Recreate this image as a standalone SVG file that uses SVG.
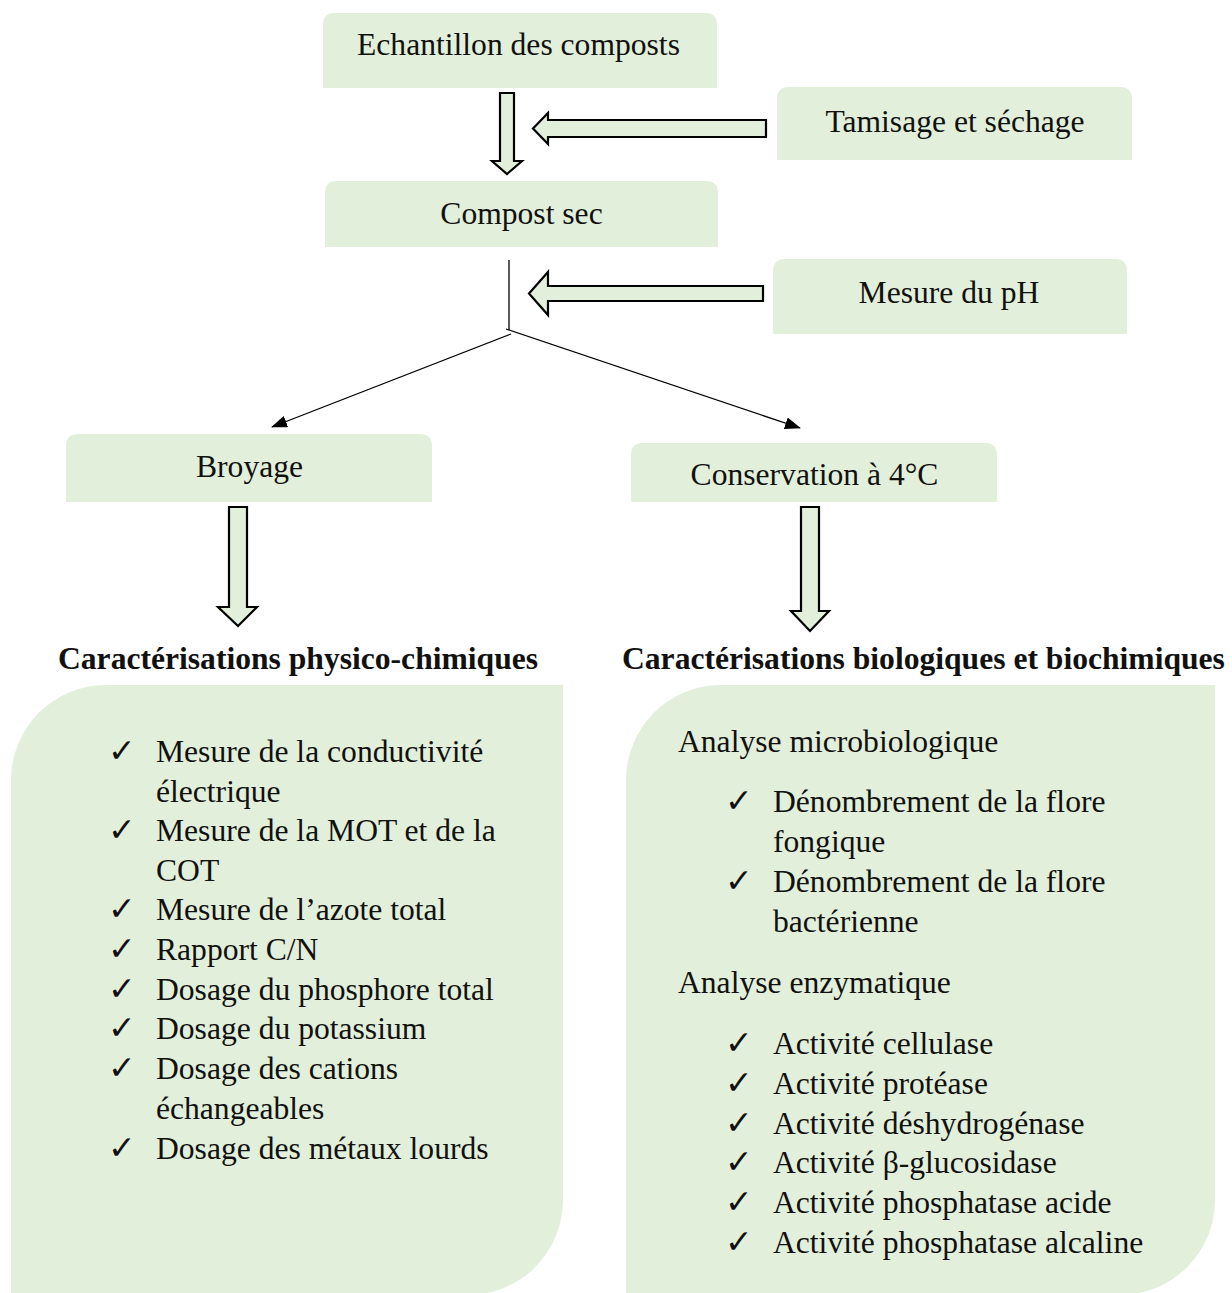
<svg xmlns="http://www.w3.org/2000/svg" width="1232" height="1293" viewBox="0 0 1232 1293">
<style>
.box{fill:#E2EFDA;}
.t{font-family:'Liberation Serif','DejaVu Serif',serif;font-size:31.6px;fill:#111;}
.c{text-anchor:middle;}
.b{font-weight:bold;}
.ck{font-family:'DejaVu Sans',sans-serif;font-size:33px;fill:#111;}
.blk{fill:#E2EFDA;stroke:#000;stroke-width:2.2;stroke-linejoin:miter;}
.ln{stroke:#000;stroke-width:1.3;fill:none;}
</style>
<defs>
<marker id="ah" viewBox="0 0 16 12" refX="15" refY="6" markerWidth="16" markerHeight="12" markerUnits="userSpaceOnUse" orient="auto">
<path d="M0,0 L16,6 L0,12 Z" fill="#000"/>
</marker>
</defs>
<rect width="1232" height="1293" fill="#fff"/>

<g id="connectors">
<path class="blk" d="M500,93 L514,93 L514,161 L522,161 L507,174 L492,161 L500,161 Z"/>
<path class="blk" d="M766,120 L548,120 L548,113 L533,128.5 L548,144 L548,137 L766,137 Z"/>
<path class="blk" d="M763,286 L548,286 L548,272 L529,293.5 L548,315 L548,301 L763,301 Z"/>
<path class="blk" d="M229,507 L247,507 L247,607 L257,607 L238,626 L218,607 L229,607 Z"/>
<path class="blk" d="M801,507 L819,507 L819,611 L829,611 L810,631 L791,611 L801,611 Z"/>
<line class="ln" x1="509" y1="260" x2="509" y2="330"/>
<line class="ln" x1="511" y1="334" x2="272" y2="427" marker-end="url(#ah)"/>
<line class="ln" x1="506" y1="329" x2="800" y2="428" marker-end="url(#ah)"/>
</g>

<g id="n-echantillon">
<path class="box" d="M323,88 L323,25 Q323,13 335,13 L705,13 Q717,13 717,25 L717,88 Z"/>
<text class="t c" x="518.5" y="55">Echantillon des composts</text>
</g>
<g id="n-tamisage">
<path class="box" d="M777,160 L777,99 Q777,87 789,87 L1120,87 Q1132,87 1132,99 L1132,160 Z"/>
<text class="t c" x="955" y="131.5">Tamisage et séchage</text>
</g>
<g id="n-compost">
<path class="box" d="M325,247 L325,193 Q325,181 337,181 L706,181 Q718,181 718,193 L718,247 Z"/>
<text class="t c" x="521.5" y="224">Compost sec</text>
</g>
<g id="n-ph">
<path class="box" d="M773,334 L773,271 Q773,259 785,259 L1115,259 Q1127,259 1127,271 L1127,334 Z"/>
<text class="t c" x="949" y="303">Mesure du pH</text>
</g>
<g id="n-broyage">
<path class="box" d="M66,502 L66,446 Q66,434 78,434 L420,434 Q432,434 432,446 L432,502 Z"/>
<text class="t c" x="249.5" y="477">Broyage</text>
</g>
<g id="n-conservation">
<path class="box" d="M631,502 L631,455 Q631,443 643,443 L985,443 Q997,443 997,455 L997,502 Z"/>
<text class="t c" x="814.5" y="485">Conservation à 4°C</text>
</g>

<g id="n-physico">
<text class="t b" x="58" y="669">Caractérisations physico-chimiques</text>
<path class="box" d="M11,780 A95,95 0 0 1 106,685 L563,685 L563,1200 A95,95 0 0 1 468,1295 L11,1295 Z"/>
<g class="ck">
<text x="108" y="762">✓</text>
<text x="108" y="841">✓</text>
<text x="108" y="920">✓</text>
<text x="108" y="960">✓</text>
<text x="108" y="1000">✓</text>
<text x="108" y="1039">✓</text>
<text x="108" y="1079">✓</text>
<text x="108" y="1159">✓</text>
</g>
<g class="t">
<text x="156" y="762">Mesure de la conductivité</text>
<text x="156" y="802">électrique</text>
<text x="156" y="841">Mesure de la MOT et de la</text>
<text x="156" y="881">COT</text>
<text x="156" y="920">Mesure de l’azote total</text>
<text x="156" y="960">Rapport C/N</text>
<text x="156" y="1000">Dosage du phosphore total</text>
<text x="156" y="1039">Dosage du potassium</text>
<text x="156" y="1079">Dosage des cations</text>
<text x="156" y="1119">échangeables</text>
<text x="156" y="1159">Dosage des métaux lourds</text>
</g>
</g>

<g id="n-bio">
<text class="t b" x="622" y="669">Caractérisations biologiques et biochimiques</text>
<path class="box" d="M626,780 A95,95 0 0 1 721,685 L1215,685 L1215,1200 A95,95 0 0 1 1120,1295 L626,1295 Z"/>
<g class="ck">
<text x="725" y="812">✓</text>
<text x="725" y="892">✓</text>
<text x="725" y="1054">✓</text>
<text x="725" y="1094">✓</text>
<text x="725" y="1134">✓</text>
<text x="725" y="1173">✓</text>
<text x="725" y="1213">✓</text>
<text x="725" y="1253">✓</text>
</g>
<g class="t">
<text x="678" y="752">Analyse microbiologique</text>
<text x="773" y="812">Dénombrement de la flore</text>
<text x="773" y="852">fongique</text>
<text x="773" y="892">Dénombrement de la flore</text>
<text x="773" y="932">bactérienne</text>
<text x="678" y="993">Analyse enzymatique</text>
<text x="773" y="1054">Activité cellulase</text>
<text x="773" y="1094">Activité protéase</text>
<text x="773" y="1134">Activité déshydrogénase</text>
<text x="773" y="1173">Activité β-glucosidase</text>
<text x="773" y="1213">Activité phosphatase acide</text>
<text x="773" y="1253">Activité phosphatase alcaline</text>
</g>
</g>
</svg>
